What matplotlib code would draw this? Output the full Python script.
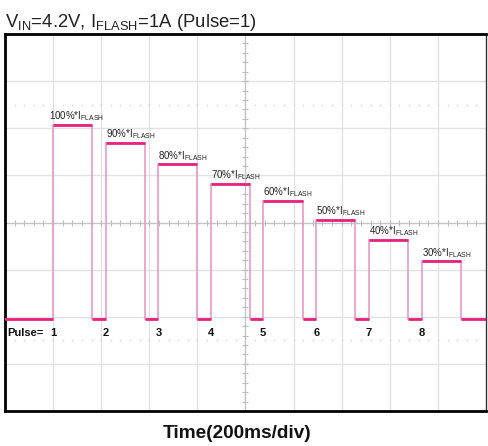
import matplotlib
matplotlib.use("Agg")
import matplotlib.pyplot as plt
import numpy as np

plt.rcParams['font.family'] = ['Liberation Sans', 'DejaVu Sans']
plt.rcParams['mathtext.fontset'] = 'custom'
plt.rcParams['mathtext.rm'] = 'Liberation Sans'
plt.rcParams['mathtext.bf'] = 'Liberation Sans:bold'

# ---- data (x in divisions of 200 ms, y in vertical divisions) ----
pulse_numbers = ["1", "2", "3", "4", "5", "6", "7", "8"]
pulse_labels = ["100%", "90%", "80%", "70%", "60%", "50%", "40%", "30%"]
pulse_start = [1.00, 2.09, 3.19, 4.28, 5.36, 6.47, 7.56, 8.67]
pulse_end = [1.81, 2.91, 4.00, 5.09, 6.20, 7.28, 8.38, 9.48]
pulse_level = [6.07, 5.69, 5.24, 4.82, 4.46, 4.06, 3.63, 3.18]
baseline_level = 1.95
n_xdiv, n_ydiv = 10, 8

title = r"V$_{\mathrm{IN}}$=4.2V, I$_{\mathrm{FLASH}}$=1A (Pulse=1)"
xlabel = "Time(200ms/div)"

W, H = 488, 446
fig = plt.figure(figsize=(W / 100, H / 100), dpi=100)
L, R, T, B = 5, 486, 34, 411
ax = fig.add_axes([L / W, 1 - B / H, (R - L) / W, (B - T) / H])
ax.set_xlim(0, n_xdiv)
ax.set_ylim(0, n_ydiv)
ax.set_xticks([])
ax.set_yticks([])

# graticule
grid_c = '#e2e2e2'
for gx in range(1, n_xdiv):
    ax.axvline(gx, color=grid_c if gx != n_xdiv // 2 else '#c4c4c4', lw=1, zorder=1)
for gy in range(1, n_ydiv):
    ax.axhline(gy, color=grid_c if gy != n_ydiv // 2 else '#c4c4c4', lw=1, zorder=1)
# center ticks
tx = np.arange(0, n_xdiv + 0.001, 0.2)
ty = np.arange(0, n_ydiv + 0.001, 0.2)
ax.plot(tx, np.full_like(tx, n_ydiv / 2), linestyle='none', marker='|', ms=4,
        mew=0.8, color='#bdbdbd', zorder=1)
ax.plot(np.full_like(ty, n_xdiv / 2), ty, linestyle='none', marker='_', ms=4,
        mew=0.8, color='#bdbdbd', zorder=1)
# dotted rows
for row in (1.5, 6.5):
    ax.plot(tx, np.full_like(tx, row), linestyle='none', marker='s', ms=1.0,
            color='#d4d4d4', mew=0, zorder=1)

# trace
xs, ys = [0], [baseline_level]
for s, e, lv in zip(pulse_start, pulse_end, pulse_level):
    xs += [s, s, e, e]
    ys += [baseline_level, lv, lv, baseline_level]
xs.append(n_xdiv)
ys.append(baseline_level)
ax.plot(xs, ys, color='#e79ac6', lw=1.2, zorder=3, solid_joinstyle='miter')
ax.hlines(pulse_level, pulse_start, pulse_end, color='#e6237f', lw=2.0, zorder=4)
base_x0 = [0] + pulse_end
base_x1 = pulse_start + [n_xdiv]
ax.hlines([baseline_level] * len(base_x0), base_x0, base_x1, color='#e6237f', lw=2.0, zorder=4)

# pulse labels
label_dx_px = [-4, 0, 0, 0, 0, 0, 0, 0]
for s, lv, lab, dx in zip(pulse_start, pulse_level, pulse_labels, label_dx_px):
    ax.annotate(lab + r"*I$_{\mathrm{FLASH}}$", (s, lv), xytext=(dx * 0.72, 3.8),
                textcoords='offset points', ha='left', va='baseline',
                fontsize=7, color='#222222', zorder=5)

# pulse numbers
num_y = 1.66
ax.text(2 / ((R - L) / n_xdiv), num_y, "Pulse=", fontsize=8, fontweight='bold',
        ha='left', va='center', color='#111111', zorder=5)
for s, n in zip(pulse_start, pulse_numbers):
    ax.text(s, num_y, n, fontsize=8, fontweight='bold', ha='center', va='center',
            color='#111111', zorder=5)

# frame
for side in ('left', 'top', 'bottom'):
    ax.spines[side].set_linewidth(2)
    ax.spines[side].set_color('black')
ax.spines['right'].set_linewidth(1)
ax.spines['right'].set_color('#333333')

fig.text(5 / W, 1 - 27 / H, title, fontsize=13.3, color='#222222',
         ha='left', va='baseline')
fig.text(237 / W, 1 - 433 / H, xlabel, fontsize=13.7, fontweight='bold',
         ha='center', va='center', color='#111111')

fig.savefig("out.png", dpi=100)
